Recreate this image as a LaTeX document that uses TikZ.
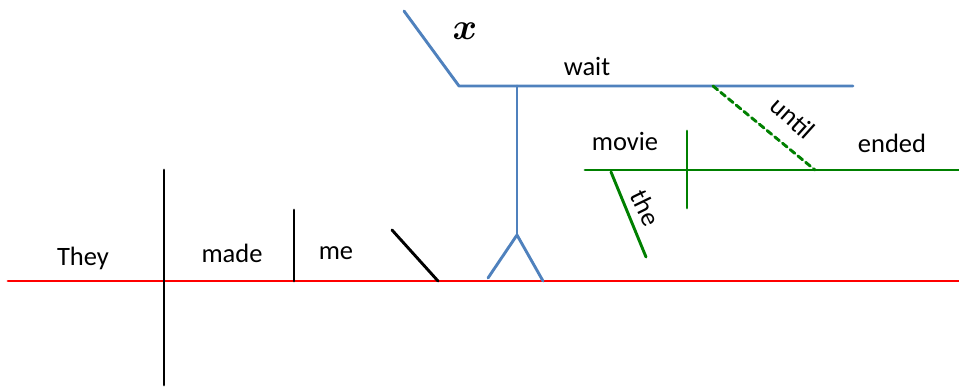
\documentclass[tikz,border=0pt]{standalone}
\usepackage{fontspec}
\setmainfont{Carlito}
\usetikzlibrary{positioning,calc}

\definecolor{baseRed}{RGB}{255,0,0}
\definecolor{clauseBlue}{RGB}{79,129,189}
\definecolor{clauseGreen}{RGB}{0,128,0}

\begin{document}
\begin{tikzpicture}[
    x=1pt, y=-1pt,
    line join=round,
    line cap=round,
    font=\fontsize{26.5}{30}\selectfont,
    base/.style={line width=2.9pt},
    mainline/.style={base, baseRed},
    blueline/.style={base, clauseBlue},
    greenline/.style={base, clauseGreen},
    blackline/.style={base, black},
    word/.style={inner sep=1pt, anchor=center}
]
\useasboundingbox (0,0) rectangle (959,387);

% =========================
% Main clause
% =========================
\coordinate (mainL) at (8,281);
\coordinate (mainR) at (959,281);
\draw[mainline] (mainL) -- (mainR);

\draw[blackline] (164,170) coordinate (splitT) -- (164,385) coordinate (splitB);
\draw[blackline] (294,210) coordinate (objT) -- (294,281) coordinate (objB);
\draw[blackline] (392,230) coordinate (compT) -- (438,281) coordinate (compB);

\node[word] (they) at (83,258) {They};
\node[word] (made) at (232,253) {made};
\node[word] (me) at (336,253) {me};

% =========================
% Infinitive on pedestal
% =========================
\coordinate (ped) at (517,235);
\coordinate (pedTop) at (517,86);
\draw[blueline] (pedTop) -- (ped);
\draw[blueline] (488,278) coordinate (legL) -- (ped) -- (543,281) coordinate (legR);

\coordinate (waitL) at (459,86);
\coordinate (waitR) at (853,86);
\coordinate (xTop) at (404,11);
\draw[blueline] (xTop) -- (waitL) -- (waitR);

\node[word] (x) at (465,31) {\scalebox{1.5}{\boldmath$x$}};
\node[word] (wait) at (587,66) {wait};

% =========================
% Subordinate clause
% =========================
\coordinate (subL) at (585,170);
\coordinate (subR) at (959,170);
\draw[greenline] (subL) -- (subR);
\draw[greenline] (687,131) coordinate (subT) -- (687,208) coordinate (subB);

\coordinate (untilT) at (713,86);
\coordinate (untilB) at (815,170);
\draw[greenline, dashed, dash pattern=on 6pt off 4pt] (untilT) -- (untilB);
\node[word, rotate=-42] (until) at (793,118) {until};

\coordinate (theT) at (611,172);
\coordinate (theB) at (646,257);
\draw[greenline] (theT) -- (theB);
\node[word, rotate=-64] (the) at (646,208) {the};

\node[word] (movie) at (625,141) {movie};
\node[word] (ended) at (892,143) {ended};

\end{tikzpicture}
\end{document}
